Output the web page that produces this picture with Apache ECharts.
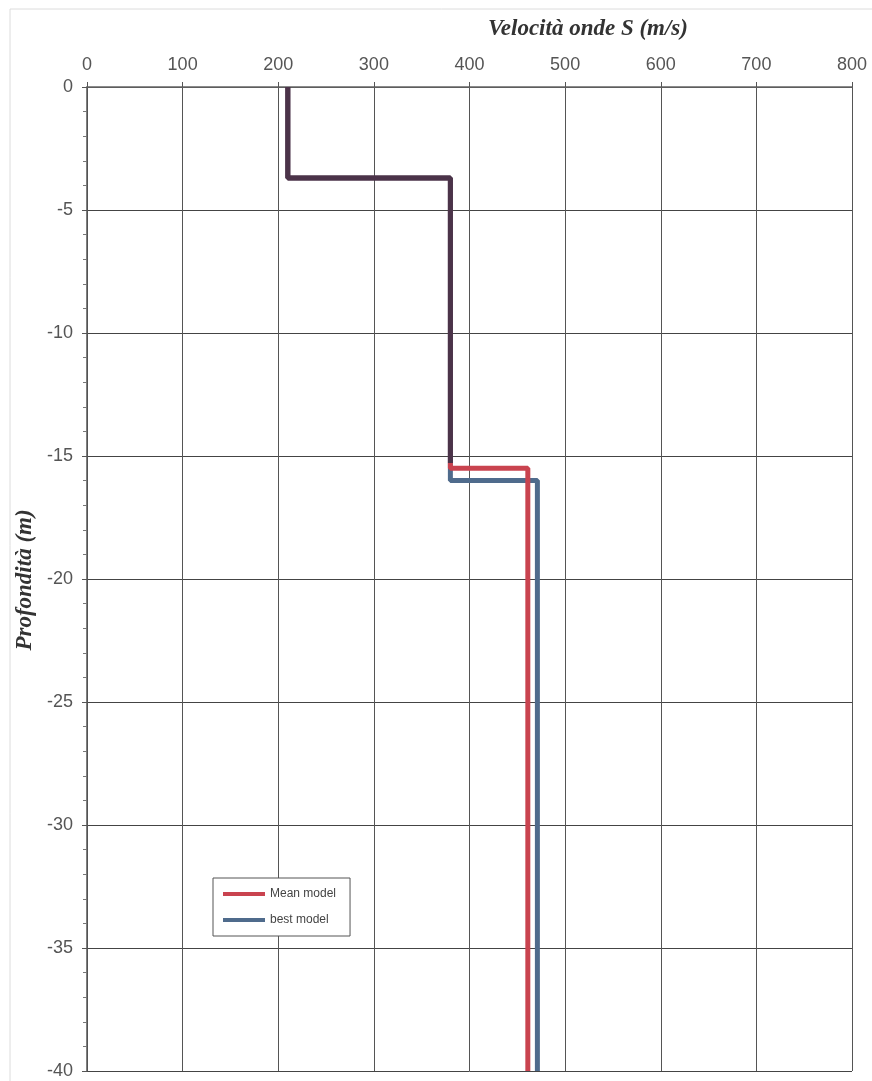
<!DOCTYPE html>
<html>
<head>
<meta charset="utf-8">
<script src="https://cdn.jsdelivr.net/npm/echarts@6/dist/echarts.min.js"></script>
<style>html,body{margin:0;padding:0;background:#fff;}#c{width:872px;height:1081px;}</style>
</head>
<body>
<div id="c"></div>
<script>
// Data
const seriesNames = ['Mean model', 'best model'];
const meanVelocity = [210, 210, 380, 380, 461, 461];
const meanDepth    = [0, -3.7, -3.7, -15.5, -15.5, -40];
const bestVelocity = [210, 210, 380, 380, 471, 471];
const bestDepth    = [0, -3.7, -3.7, -16, -16, -40];
const xTitle = 'Velocità onde S (m/s)';
const yTitle = 'Profondità (m)';

const RED = '#c9434f', BLUE = '#4f6b8c', PURPLE = '#4b3349';
const pairs = (xs, ys) => xs.map((x, i) => [x, ys[i]]);

const chart = echarts.init(document.getElementById('c'), null, {renderer: 'canvas'});
chart.setOption({
  animation: false,
  backgroundColor: '#fff',
  grid: {left: 87, right: 20, top: 87, bottom: 10, containLabel: false},
  title: {
    text: xTitle, left: 483, top: 13,
    textStyle: {fontFamily: 'Liberation Serif', fontStyle: 'italic', fontWeight: 'bold', fontSize: 23, color: '#333'}
  },
  graphic: [
    {type: 'rect', shape: {x: 10, y: 9, width: 870, height: 1080}, style: {fill: 'none', stroke: '#dcdcdc', lineWidth: 1}, silent: true, z: -1},
    {type: 'text', x: 25, y: 580, rotation: Math.PI / 2,
     style: {text: yTitle, fontFamily: 'Liberation Serif', fontStyle: 'italic', fontWeight: 'bold', fontSize: 23, fill: '#333', align: 'center', verticalAlign: 'middle'}}
  ],
  legend: {
    orient: 'vertical', left: 213, top: 878,
    backgroundColor: '#fff', borderColor: '#555', borderWidth: 1,
    padding: [10, 14, 10, 10], itemGap: 14,
    icon: 'rect', itemWidth: 42, itemHeight: 4,
    textStyle: {fontFamily: 'Liberation Sans', fontSize: 12, color: '#444'},
    data: [
      {name: seriesNames[0], itemStyle: {color: RED}},
      {name: seriesNames[1], itemStyle: {color: BLUE}}
    ]
  },
  xAxis: {
    type: 'value', position: 'top', min: 0, max: 800, interval: 100,
    axisLine: {show: true, onZero: false, lineStyle: {color: '#666', width: 1.5}},
    axisTick: {show: true, inside: false, length: 5, lineStyle: {color: '#555'}},
    axisLabel: {fontFamily: 'Liberation Sans', fontSize: 18, color: '#555', margin: 13},
    splitLine: {show: true, lineStyle: {color: '#555', width: 1}}
  },
  yAxis: {
    type: 'value', min: -40, max: 0, interval: 5,
    axisLine: {show: true, onZero: false, lineStyle: {color: '#555', width: 1.5}},
    axisTick: {show: true, length: 5, lineStyle: {color: '#555'}},
    minorTick: {show: true, splitNumber: 5, length: 4, lineStyle: {color: '#777'}},
    axisLabel: {fontFamily: 'Liberation Sans', fontSize: 18, color: '#555', margin: 14},
    splitLine: {show: true, lineStyle: {color: '#444', width: 1}}
  },
  visualMap: [
    {type: 'piecewise', show: false, seriesIndex: 1, dimension: 1,
     pieces: [{min: -15.3, max: 1, color: PURPLE}, {min: -41, max: -15.3, color: RED}]},
    {type: 'piecewise', show: false, seriesIndex: 0, dimension: 1,
     pieces: [{min: -15.3, max: 1, color: PURPLE}, {min: -41, max: -15.3, color: BLUE}]}
  ],
  series: [
    {name: seriesNames[1], type: 'line', data: pairs(bestVelocity, bestDepth), showSymbol: false, symbol: 'none',
     lineStyle: {width: 5}, itemStyle: {color: BLUE}, z: 2},
    {name: seriesNames[0], type: 'line', data: pairs(meanVelocity, meanDepth), showSymbol: false, symbol: 'none',
     lineStyle: {width: 5}, itemStyle: {color: RED}, z: 3}
  ]
});
</script>
</body>
</html>
